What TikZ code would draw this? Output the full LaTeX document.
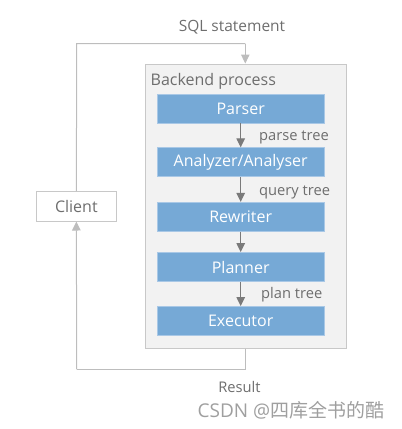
\documentclass[tikz,border=0pt]{standalone}
\usepackage{fontspec}
\setmainfont{Open Sans}
\newfontfamily\cjk{Noto Sans CJK SC}
\usetikzlibrary{arrows.meta}
\definecolor{stepblue}{HTML}{76A9D6}
\definecolor{stepborder}{HTML}{A9C8E6}
\definecolor{backfill}{HTML}{F2F2F2}
\definecolor{backline}{HTML}{C8C8C8}
\definecolor{txtgray}{HTML}{6E6E6E}
\definecolor{loopline}{HTML}{BDBDBD}
\definecolor{arrgray}{HTML}{7A7A7A}
\begin{document}
\begin{tikzpicture}[x=1pt,y=-1pt,
  stepbox/.style={draw=stepborder,fill=stepblue,line width=0.8pt,minimum width=167pt,minimum height=29pt,inner sep=0pt,text=white,font=\fontsize{16}{18}\selectfont},
  lbl/.style={text=txtgray,font=\fontsize{14.7}{17}\selectfont,inner sep=0pt},
  flow/.style={draw=arrgray,line width=1pt,-{Triangle[length=9pt,width=8.5pt]}},
  loopl/.style={draw=loopline,line width=1pt},
  looparr/.style={loopl,-{Triangle[length=9pt,width=8.5pt]}}]
\useasboundingbox (0,0) rectangle (402,429);
% backend
\node[draw=backline,fill=backfill,line width=1pt,minimum width=200.7pt,minimum height=284.3pt,inner sep=0pt] (back) at (245.65,206.15) {};
\node[lbl,anchor=west,font=\fontsize{16}{18}\selectfont] (bp) at (150.5,81.5) {Backend process};
\node[stepbox] (parser) at (240.7,108.4) {Parser};
\node[stepbox] (analyzer) at (240.7,162.3) {Analyzer/Analyser};
\node[stepbox] (rewriter) at (240.7,216.8) {Rewriter};
\node[stepbox] (planner) at (240.7,267) {Planner};
\node[stepbox] (executor) at (240.7,321) {Executor};
\draw[flow] (parser) -- (analyzer);
\draw[flow] (analyzer) -- (rewriter);
\draw[flow] (rewriter) -- (planner);
\draw[flow] (planner) -- (executor);
\node[lbl,anchor=west] (pt) at (259,137) {parse tree};
\node[lbl,anchor=west] (qt) at (259,192.5) {query tree};
\node[lbl,anchor=west] (plt) at (261,294.5) {plan tree};
% client
\node[draw=backline,fill=white,line width=1pt,minimum width=79.3pt,minimum height=29.3pt,inner sep=0pt,text=txtgray,font=\fontsize{16}{18}\selectfont] (client) at (76.35,206.35) {Client};
\coordinate (tl) at (76.7,43.7);
\coordinate (tr) at (245.3,43.7);
\coordinate (bl) at (76.7,369.3);
\coordinate (br) at (245.3,369.3);
\draw[loopl] (client.north) -- (tl) -- (tr);
\draw[looparr] (tr) -- (tr |- back.north);
\draw[loopl] (br |- back.south) -- (br) -- (bl);
\draw[looparr] (bl) -- (client.south);
\node[lbl,font=\fontsize{15.5}{18}\selectfont] (sql) at (232,27.5) {SQL statement};
\node[lbl] (res) at (239.5,387) {Result};
\node[lbl,text=gray!75,font=\fontsize{19}{21}\selectfont] (wm) at (291,410) {CSDN @{\cjk 四库全书的酷}};
\end{tikzpicture}
\end{document}
